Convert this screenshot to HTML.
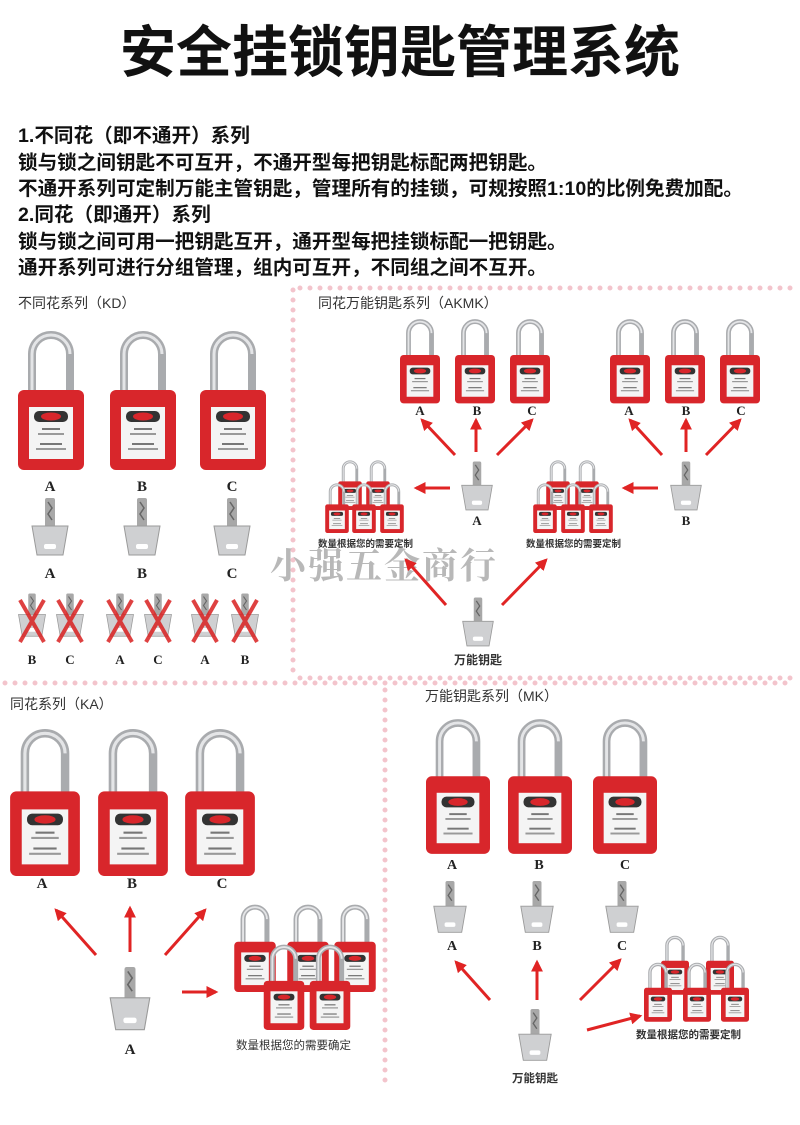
<!DOCTYPE html>
<html><head><meta charset="utf-8"><style>
html,body{margin:0;padding:0;background:#fff;width:800px;height:1125px;overflow:hidden}
svg{display:block}
.t{font-family:"Liberation Sans","Noto Sans CJK SC",sans-serif}
.s{font-family:"Liberation Serif","Noto Serif CJK SC",serif;font-weight:bold}
</style></head><body>
<svg width="800" height="1125" viewBox="0 0 800 1125" xmlns="http://www.w3.org/2000/svg">
<defs>
<symbol id="lock" viewBox="0 0 66 140">
<path d="M14,66 V24 A19,19 0 0 1 52,24 V66" fill="none" stroke="#a9abae" stroke-width="8"/>
<path d="M14,66 V24 A19,19 0 0 1 52,24" fill="none" stroke="#e4e5e7" stroke-width="3"/>
<rect x="0" y="60" width="66" height="80" rx="6" fill="#d8262b"/>
<rect x="11" y="77" width="44" height="52" fill="#f4f4f4"/>
<rect x="16" y="81" width="34" height="11" rx="5" fill="#333"/>
<ellipse cx="33" cy="86.5" rx="10" ry="4" fill="#d8262b"/>
<rect x="24" y="98" width="18" height="2" fill="#777"/>
<rect x="20" y="103" width="26" height="2" fill="#999"/>
<rect x="22" y="113" width="22" height="2" fill="#777"/>
<rect x="18" y="118" width="30" height="2" fill="#999"/>
</symbol>
<symbol id="key" viewBox="0 0 40 60">
<rect x="15" y="0" width="10" height="31" rx="2" fill="#a8a8a8"/>
<path d="M18,4 L22,10 L18,16 L22,22" stroke="#666" fill="none" stroke-width="1.5"/>
<path d="M2,28 L38,28 L33,57 L7,57 Z" fill="#cfd0d2" stroke="#9a9a9a"/>
<rect x="14" y="46" width="12" height="5" rx="2" fill="#fff"/>
</symbol>
<marker id="ah" viewBox="0 0 10 10" refX="8" refY="5" markerWidth="4" markerHeight="4" orient="auto"><path d="M0,0 L10,5 L0,10 Z" fill="#e02424"/></marker>
</defs>

<text x="400" y="72" text-anchor="middle" class="t" font-size="56" font-weight="bold" fill="#111">安全挂锁钥匙管理系统</text>
<g class="t" font-size="19.6" font-weight="bold" fill="#111">
<text x="18" y="142">1.不同花（即不通开）系列</text>
<text x="18" y="169">锁与锁之间钥匙不可互开，不通开型每把钥匙标配两把钥匙。</text>
<text x="18" y="195">不通开系列可定制万能主管钥匙，管理所有的挂锁，可规按照1:10的比例免费加配。</text>
<text x="18" y="221">2.同花（即通开）系列</text>
<text x="18" y="248">锁与锁之间可用一把钥匙互开，通开型每把挂锁标配一把钥匙。</text>
<text x="18" y="274">通开系列可进行分组管理，组内可互开，不同组之间不互开。</text>
</g>

<g stroke="#f3c4cc" stroke-width="5" stroke-linecap="round" stroke-dasharray="0 10" fill="none">
<line x1="293" y1="290" x2="293" y2="680"/>
<line x1="5" y1="683" x2="795" y2="683"/>
<line x1="385" y1="690" x2="385" y2="1090"/>
<line x1="300" y1="288" x2="795" y2="288"/>
<line x1="300" y1="678" x2="795" y2="678"/>
</g>

<g class="t" font-size="14" fill="#333">
<text x="18" y="308">不同花系列（KD）</text>
<text x="318" y="308">同花万能钥匙系列（AKMK）</text>
<text x="10" y="709">同花系列（KA）</text>
<text x="425" y="701">万能钥匙系列（MK）</text>
</g>

<!-- KD -->
<use href="#lock" x="18" y="330" width="66" height="140"/>
<use href="#lock" x="110" y="330" width="66" height="140"/>
<use href="#lock" x="200" y="330" width="66" height="140"/>
<g class="s" font-size="15" fill="#222" text-anchor="middle">
<text x="50" y="491">A</text><text x="142" y="491">B</text><text x="232" y="491">C</text>
<text x="50" y="578">A</text><text x="142" y="578">B</text><text x="232" y="578">C</text>
</g>
<use href="#key" x="30" y="498" width="40" height="60"/>
<use href="#key" x="122" y="498" width="40" height="60"/>
<use href="#key" x="212" y="498" width="40" height="60"/>
<g>
<use href="#key" x="17" y="592" width="30" height="48"/>
<use href="#key" x="55" y="592" width="30" height="48"/>
<use href="#key" x="105" y="592" width="30" height="48"/>
<use href="#key" x="143" y="592" width="30" height="48"/>
<use href="#key" x="190" y="592" width="30" height="48"/>
<use href="#key" x="230" y="592" width="30" height="48"/>
</g>
<g stroke="#d92020" stroke-width="4" opacity="0.85">
<path d="M20,600 L44,642 M44,600 L20,642"/>
<path d="M58,600 L82,642 M82,600 L58,642"/>
<path d="M108,600 L132,642 M132,600 L108,642"/>
<path d="M146,600 L170,642 M170,600 L146,642"/>
<path d="M193,600 L217,642 M217,600 L193,642"/>
<path d="M233,600 L257,642 M257,600 L233,642"/>
</g>
<g class="s" font-size="13" fill="#222" text-anchor="middle">
<text x="32" y="664">B</text><text x="70" y="664">C</text><text x="120" y="664">A</text><text x="158" y="664">C</text><text x="205" y="664">A</text><text x="245" y="664">B</text>
</g>

<text x="270" y="578" class="s" font-weight="normal" font-size="36" fill="#b8b8b8" letter-spacing="2">小强五金商行</text>

<!-- AKMK -->
<use href="#lock" x="400" y="318" width="40" height="86"/>
<use href="#lock" x="455" y="318" width="40" height="86"/>
<use href="#lock" x="510" y="318" width="40" height="86"/>
<use href="#lock" x="610" y="318" width="40" height="86"/>
<use href="#lock" x="665" y="318" width="40" height="86"/>
<use href="#lock" x="720" y="318" width="40" height="86"/>
<g class="s" font-size="13" fill="#222" text-anchor="middle">
<text x="420" y="415">A</text><text x="477" y="415">B</text><text x="532" y="415">C</text>
<text x="629" y="415">A</text><text x="686" y="415">B</text><text x="741" y="415">C</text>
<text x="477" y="525">A</text><text x="686" y="525">B</text>
</g>
<use href="#key" x="460" y="460" width="34" height="54"/>
<use href="#key" x="669" y="460" width="34" height="54"/>
<use href="#key" x="461" y="596" width="34" height="54"/>
<use href="#lock" x="338" y="460" width="24" height="50"/>
<use href="#lock" x="366" y="460" width="24" height="50"/>
<use href="#lock" x="325" y="483" width="24" height="50"/>
<use href="#lock" x="352" y="483" width="24" height="50"/>
<use href="#lock" x="380" y="483" width="24" height="50"/>
<use href="#lock" x="546" y="460" width="24" height="50"/>
<use href="#lock" x="575" y="460" width="24" height="50"/>
<use href="#lock" x="533" y="483" width="24" height="50"/>
<use href="#lock" x="561" y="483" width="24" height="50"/>
<use href="#lock" x="589" y="483" width="24" height="50"/>
<g class="t" font-size="9.5" fill="#333" font-weight="bold">
<text x="318" y="547">数量根据您的需要定制</text>
<text x="526" y="547">数量根据您的需要定制</text>
</g>
<text x="478" y="664" text-anchor="middle" class="t" font-size="12" font-weight="bold" fill="#333">万能钥匙</text>

<!-- KA -->
<use href="#lock" x="10" y="728" width="70" height="148"/>
<use href="#lock" x="98" y="728" width="70" height="148"/>
<use href="#lock" x="185" y="728" width="70" height="148"/>
<g class="s" font-size="15" fill="#222" text-anchor="middle">
<text x="42" y="888">A</text><text x="132" y="888">B</text><text x="222" y="888">C</text>
<text x="130" y="1054">A</text>
</g>
<use href="#key" x="108" y="966" width="44" height="68"/>
<use href="#lock" x="234" y="904" width="42" height="88"/>
<use href="#lock" x="287" y="904" width="42" height="88"/>
<use href="#lock" x="334" y="904" width="42" height="88"/>
<use href="#lock" x="262" y="944" width="44" height="86"/>
<use href="#lock" x="308" y="944" width="44" height="86"/>
<text x="236" y="1049" class="t" font-size="11.5" fill="#333">数量根据您的需要确定</text>

<!-- MK -->
<use href="#lock" x="426" y="718" width="64" height="136"/>
<use href="#lock" x="508" y="718" width="64" height="136"/>
<use href="#lock" x="593" y="718" width="64" height="136"/>
<g class="s" font-size="14" fill="#222" text-anchor="middle">
<text x="452" y="869">A</text><text x="539" y="869">B</text><text x="625" y="869">C</text>
<text x="452" y="950">A</text><text x="537" y="950">B</text><text x="622" y="950">C</text>
</g>
<use href="#key" x="432" y="880" width="36" height="56"/>
<use href="#key" x="519" y="880" width="36" height="56"/>
<use href="#key" x="604" y="880" width="36" height="56"/>
<use href="#key" x="517" y="1008" width="36" height="56"/>
<text x="535" y="1082" text-anchor="middle" class="t" font-size="11.5" font-weight="bold" fill="#333">万能钥匙</text>
<use href="#lock" x="661" y="935" width="28" height="60"/>
<use href="#lock" x="706" y="935" width="28" height="60"/>
<use href="#lock" x="644" y="962" width="28" height="60"/>
<use href="#lock" x="683" y="962" width="28" height="60"/>
<use href="#lock" x="721" y="962" width="28" height="60"/>
<text x="636" y="1038" class="t" font-size="10.5" font-weight="bold" fill="#333">数量根据您的需要定制</text>

<g stroke="#e02424" stroke-width="3" marker-end="url(#ah)" fill="none">
<line x1="455" y1="455" x2="422" y2="420"/>
<line x1="476" y1="452" x2="476" y2="420"/>
<line x1="497" y1="455" x2="532" y2="420"/>
<line x1="662" y1="455" x2="630" y2="420"/>
<line x1="686" y1="452" x2="686" y2="420"/>
<line x1="706" y1="455" x2="740" y2="420"/>
<line x1="450" y1="488" x2="416" y2="488"/>
<line x1="658" y1="488" x2="624" y2="488"/>
<line x1="446" y1="605" x2="406" y2="560"/>
<line x1="502" y1="605" x2="546" y2="560"/>
<line x1="96" y1="955" x2="56" y2="910"/>
<line x1="130" y1="952" x2="130" y2="908"/>
<line x1="165" y1="955" x2="205" y2="910"/>
<line x1="182" y1="992" x2="216" y2="992"/>
<line x1="490" y1="1000" x2="456" y2="962"/>
<line x1="537" y1="1000" x2="537" y2="962"/>
<line x1="580" y1="1000" x2="620" y2="960"/>
<line x1="587" y1="1030" x2="640" y2="1016"/>
</g>
</svg>
</body></html>
